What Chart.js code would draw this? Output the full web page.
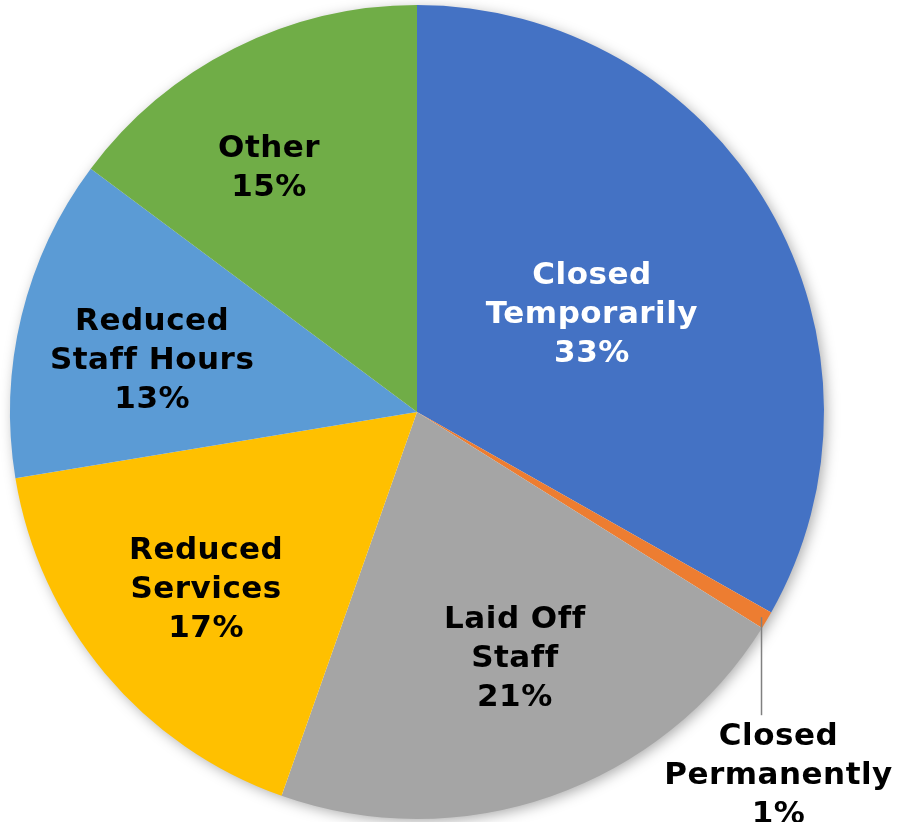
<!DOCTYPE html>
<html>
<head>
<meta charset="utf-8">
<script src="https://cdn.jsdelivr.net/npm/chart.js@4"></script>
<style>
  html, body { margin: 0; padding: 0; background: #fff; }
  #wrap { width: 900px; height: 822px; }
</style>
</head>
<body>
<div id="wrap"><canvas id="chart" width="900" height="822"></canvas></div>
<script>
const categories = [
    ['Closed', 'Temporarily'],
    ['Closed', 'Permanently'],
    ['Laid Off', 'Staff'],
    ['Reduced', 'Services'],
    ['Reduced', 'Staff Hours'],
    ['Other']
];
const shares = [33.2, 0.7, 21.5, 17.0, 12.8, 14.8];
const percentLabels = ['33%', '1%', '21%', '17%', '13%', '15%'];
const colors = ['#4472C4', '#ED7D31', '#A5A5A5', '#FFC000', '#5B9BD5', '#70AD47'];
const labelColors = ['#ffffff', '#000000', '#000000', '#000000', '#000000', '#000000'];

// label placement: fraction of radius, and a small angle nudge in degrees
// null radius = outside the pie with a leader line
const labelRadius = [0.495, null, 0.646, 0.673, 0.664, 0.707];
const labelNudge = [0.5, 0, -2.6, 0.3, -2.2, -4.3];

const canvasCtx = document.querySelector('#chart').getContext('2d');

const pieShadow = {
    id: 'pieShadow',
    beforeDatasetsDraw(chart) {
        const arc = chart.getDatasetMeta(0).data[0];
        if (!arc) return;
        const ctx = chart.ctx;
        ctx.save();
        ctx.shadowColor = 'rgba(0, 0, 0, 0.35)';
        ctx.shadowBlur = 14;
        ctx.shadowOffsetX = 3;
        ctx.shadowOffsetY = 3;
        ctx.fillStyle = '#ffffff';
        ctx.beginPath();
        ctx.arc(arc.x, arc.y, arc.outerRadius - 1, 0, Math.PI * 2);
        ctx.fill();
        ctx.restore();
    }
};

const sliceLabels = {
    id: 'sliceLabels',
    afterDatasetsDraw(chart) {
        const ctx = chart.ctx;
        const arcs = chart.getDatasetMeta(0).data;
        ctx.save();
        ctx.font = 'bold 31px "DejaVu Sans", Verdana, sans-serif';
        ctx.letterSpacing = '0.5px';
        ctx.textAlign = 'center';
        ctx.textBaseline = 'middle';
        const lineHeight = 39;

        arcs.forEach((arc, i) => {
            const mid = (arc.startAngle + arc.endAngle) / 2 + labelNudge[i] * Math.PI / 180;
            const lines = [...categories[i], percentLabels[i]];
            let x, y;
            if (labelRadius[i] === null) {
                const ex = arc.x + Math.cos(mid) * (arc.outerRadius - 6);
                const ey = arc.y + Math.sin(mid) * (arc.outerRadius - 6);
                const top = ey + 98;
                ctx.strokeStyle = '#808080';
                ctx.lineWidth = 1.5;
                ctx.beginPath();
                ctx.moveTo(ex, ey);
                ctx.lineTo(ex, top);
                ctx.stroke();
                x = ex + 17;
                y = top + 19 + lineHeight * (lines.length - 1) / 2;
            } else {
                x = arc.x + Math.cos(mid) * arc.outerRadius * labelRadius[i];
                y = arc.y + Math.sin(mid) * arc.outerRadius * labelRadius[i];
            }
            ctx.fillStyle = labelColors[i];
            const startY = y + 3 - lineHeight * (lines.length - 1) / 2;
            lines.forEach((line, k) => ctx.fillText(line, x, startY + k * lineHeight));
        });
        ctx.restore();
    }
};

new Chart(canvasCtx, {
    type: 'pie',
    data: {
        labels: categories,
        datasets: [{
            data: shares,
            backgroundColor: colors,
            borderWidth: 0,
            hoverOffset: 0,
            offset: 0
        }]
    },
    options: {
        responsive: false,
        animation: false,
        layout: { padding: { left: 1, right: 67, top: 5, bottom: 3 } },
        plugins: {
            legend: { display: false },
            tooltip: { enabled: false }
        },
        events: []
    },
    plugins: [pieShadow, sliceLabels]
});
</script>
</body>
</html>
